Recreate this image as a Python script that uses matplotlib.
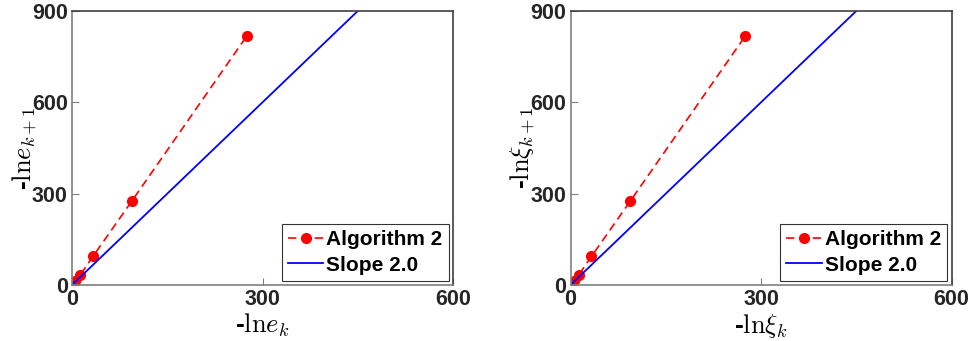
import matplotlib
matplotlib.use("Agg")
import matplotlib.pyplot as plt

# data: -ln err_k vs -ln err_{k+1}
xk = [0.5, 2, 5, 13, 33, 94, 275]
xk1 = [2, 5, 13, 33, 94, 275, 817]
slope_x = [0, 600]
slope_y = [0, 1200]
xticks = [0, 300, 600]
yticks = [0, 300, 600, 900]

plt.rcParams['font.family'] = ['Liberation Sans', 'DejaVu Sans']
plt.rcParams['mathtext.fontset'] = 'cm'

fig = plt.figure(figsize=(9.72, 3.41), dpi=100)
W, H = 972, 341
panels = [
    (72, r'-$\mathrm{ln}e_{k}$', r'-$\mathrm{ln}e_{k+1}$'),
    (570.5, r'-$\mathrm{ln}\xi_{k}$', r'-$\mathrm{ln}\xi_{k+1}$'),
]
gray = '#7f7f7f'
for left, xl, yl in panels:
    ax = fig.add_axes([left / W, (H - 285) / H, 381 / W, 274 / H])
    ax.plot(xk, xk1, '--', color='red', marker='o', markersize=7,
            linewidth=1.2, label='Algorithm 2', dashes=(5, 3))
    ax.plot(slope_x, slope_y, '-', color='blue', linewidth=1.3, label='Slope 2.0')
    ax.set_xlim(0, 600)
    ax.set_ylim(0, 900)
    ax.set_xticks(xticks)
    ax.set_yticks(yticks)
    ax.tick_params(direction='in', length=5, width=0.8, color=gray,
                   labelsize=15.5, pad=3)
    for lab in ax.get_xticklabels() + ax.get_yticklabels():
        lab.set_fontweight('bold')
        lab.set_color('#262626')
    for s in ax.spines.values():
        s.set_color(gray)
        s.set_linewidth(1.2)
    ax.spines['top'].set_color('#404040')
    ax.spines['right'].set_color('#404040')
    ax.set_xlabel(xl, fontsize=19, fontweight='bold', labelpad=1)
    ax.set_ylabel(yl, fontsize=19, fontweight='bold', labelpad=-5)
    leg = ax.legend(loc='lower right', fontsize=15, frameon=True, fancybox=False,
                    edgecolor='black', handlelength=1.7, borderpad=0.3,
                    labelspacing=0.3, handletextpad=0.15, borderaxespad=0.2)
    leg.get_frame().set_linewidth(0.8)
    for t in leg.get_texts():
        t.set_fontweight('bold')

fig.savefig('out.png', dpi=100)
